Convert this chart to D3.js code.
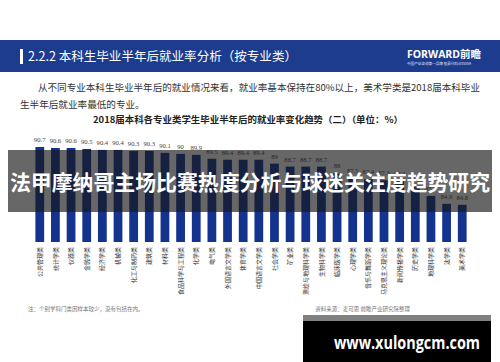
<!DOCTYPE html>
<html><head><meta charset="utf-8">
<script src="https://cdn.jsdelivr.net/npm/d3@7/dist/d3.min.js"></script>
<style>
html,body{margin:0;padding:0;background:#fff;}
svg{display:block;font-family:"Noto Sans CJK SC","Noto Sans",sans-serif;}
</style></head>
<body><svg id="c" width="500" height="362"></svg>
<script>
const categories = ["公共管理类","统计学类","仪器类","金融学类","经济学类","机械类","化工与制药类","建筑类","材料类","食品科学与工程类","化学类","电气类","外国语言文学类","体育学类","中国语言文学类","社会学类","矿业类","测绘与地理科学类","生物科学类","临床医学类","心理学类","音乐与舞蹈学类","马克思主义理论类","新闻传播学类","历史学类","地理科学类","法学类","美术学类"];
const values = [90.7,90.6,90.6,90.5,90.4,90.4,90.3,90.3,90.1,90,89.9,89.5,89.4,89.4,89.4,89,88.7,88.7,88.7,88,87.5,87.4,87.3,87.2,86.6,85.7,84.9,84.8];
const headerTitle = "2.2.2 本科生毕业半年后就业率分析（按专业类）";
const para1 = "从不同专业本科生毕业半年后的就业情况来看，就业率基本保持在80%以上，美术学类是2018届本科毕业";
const para2 = "生半年后就业率最低的专业。";
const chartTitle = "2018届本科各专业类学生毕业半年后的就业率变化趋势（二）（单位：%）";
const note = "注：个别学科门类因样本较少，没有包括在内。";
const source = "资料来源：麦可思 前瞻产业研究院整理";
const bannerText = "法甲摩纳哥主场比赛热度分析与球迷关注度趋势研究";
const siteText = "www.xulongcm.com";

const svg = d3.select("#c");
// header band
svg.append("rect").attr("x",0).attr("y",40).attr("width",500).attr("height",32).attr("fill","#1d3c8e");
svg.append("rect").attr("x",20).attr("y",49).attr("width",3).attr("height",15).attr("fill","#fff");
svg.append("text").attr("x",28).attr("y",61).attr("fill","#fff").attr("font-size",12.5)
  .attr("textLength",269).attr("lengthAdjust","spacingAndGlyphs").text(headerTitle);
svg.append("text").attr("x",407).attr("y",58).attr("fill","#fff").attr("font-size",10.5).attr("font-weight","bold")
  .attr("font-family","'Open Sans','Noto Sans CJK SC',sans-serif").attr("textLength",74).attr("lengthAdjust","spacingAndGlyphs").text("FORWARD前瞻");
svg.append("text").attr("x",407).attr("y",65).attr("fill","#dfe6f5").attr("font-size",3.6).text("中国产业咨询第一品牌  股票代码:835559");

svg.append("text").attr("x",38).attr("y",91).attr("fill","#333").attr("font-size",9.6)
  .attr("textLength",442).attr("lengthAdjust","spacingAndGlyphs").text(para1);
svg.append("text").attr("x",20).attr("y",108).attr("fill","#333").attr("font-size",9.6).text(para2);
svg.append("text").attr("x",248).attr("y",123).attr("fill","#222").attr("font-size",8.8).attr("font-weight","bold").attr("text-anchor","middle")
  .attr("textLength",310).attr("lengthAdjust","spacingAndGlyphs").text(chartTitle);

const x = d3.scaleBand().domain(categories).range([28.5,473.5]).padding(0.44);
const y = d3.scaleLinear().domain([81,90.7]).range([242,147]);

const g = svg.append("g");
g.selectAll("rect.bar").data(values).join("rect").attr("class","bar")
  .attr("x",(d,i)=>x(categories[i])).attr("width",x.bandwidth())
  .attr("y",d=>y(d)).attr("height",d=>y(81)-y(d)).attr("fill","#14338f");
g.selectAll("text.val").data(values).join("text").attr("class","val")
  .attr("x",(d,i)=>x(categories[i])+x.bandwidth()/2).attr("y",d=>y(d)-5)
  .attr("text-anchor","middle").attr("font-size",6.6).attr("fill","#444")
  .attr("font-family","'Liberation Serif',serif").text(d=>d);

const xAxis = d3.axisBottom(x).tickSize(0).tickPadding(0);
const ax = svg.append("g").attr("transform","translate(0,246)").call(xAxis);
ax.select(".domain").remove();
ax.selectAll("text").attr("font-size",6).attr("fill","#333")
  .attr("font-family","'Noto Sans CJK SC',sans-serif")
  .attr("transform","rotate(-90)").attr("text-anchor","end").attr("dy","0.35em").attr("x",-1).attr("y",0);

svg.append("text").attr("x",28).attr("y",311).attr("fill","#777").attr("font-size",5.5).text(note);
svg.append("text").attr("x",410).attr("y",311).attr("fill","#777").attr("font-size",5.5).attr("text-anchor","end").text(source);

// banner overlay
svg.append("rect").attr("x",8).attr("y",150).attr("width",484).attr("height",62).attr("fill","rgba(25,25,25,0.66)");
svg.append("text").attr("x",250).attr("y",190).attr("text-anchor","middle").attr("fill","#fff")
  .attr("font-size",21).attr("font-weight","bold").attr("textLength",480).attr("lengthAdjust","spacingAndGlyphs").text(bannerText);

// site box
svg.append("rect").attr("x",303).attr("y",315).attr("width",188).attr("height",6).attr("fill","#808080");
svg.append("rect").attr("x",303).attr("y",321).attr("width",188).attr("height",41).attr("fill","#000");
svg.append("text").attr("x",407).attr("y",349).attr("text-anchor","middle").attr("fill","#fff")
  .attr("font-size",18).attr("font-weight","bold").attr("font-family","'Open Sans',sans-serif")
  .attr("textLength",146).attr("lengthAdjust","spacingAndGlyphs").text(siteText);
</script></body></html>
